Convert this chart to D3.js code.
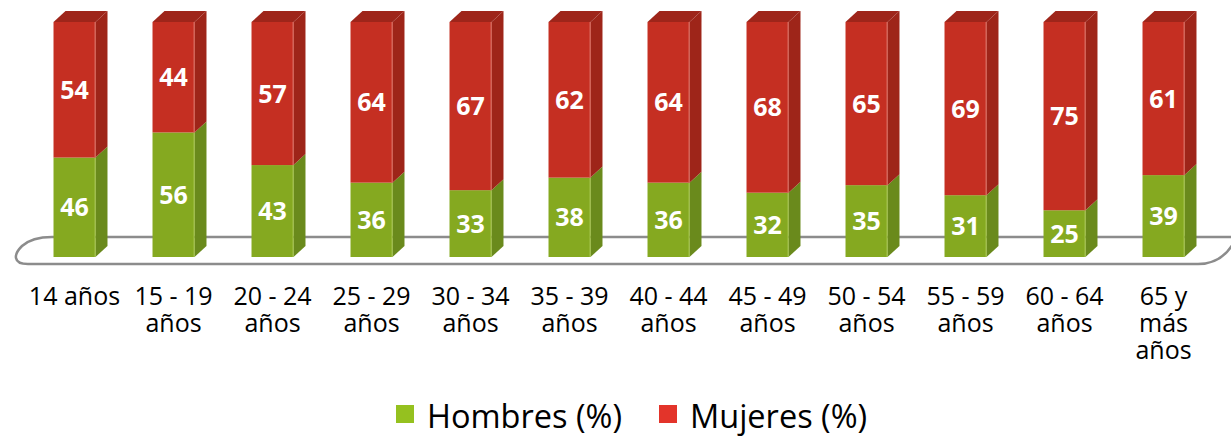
<!DOCTYPE html>
<html>
<head>
<meta charset="utf-8">
<script src="https://cdn.jsdelivr.net/npm/d3@7"></script>
<style>
  body { margin: 0; background: #fff; }
  svg { display: block; }
</style>
</head>
<body>
<svg></svg>
<script>
var categories = ['14 años', '15 - 19 años', '20 - 24 años', '25 - 29 años', '30 - 34 años',
  '35 - 39 años', '40 - 44 años', '45 - 49 años', '50 - 54 años', '55 - 59 años',
  '60 - 64 años', '65 y más años'];
var hombres = [46, 56, 43, 36, 33, 38, 36, 32, 35, 31, 25, 39];
var mujeres = [54, 44, 57, 64, 67, 62, 64, 68, 65, 69, 75, 61];
var seriesNames = ['Hombres (%)', 'Mujeres (%)'];

var width = 1231, height = 439;
var depthX = 12, depthY = 11;
var floorY = 257; // bars stand on the floor, the 0 line sits a bit below it

var colors = [
  { front: '#85a920', side: '#6a8a1c', top: '#76981e', edge: '#a3c24a', legend: '#95c11f' },
  { front: '#c52f22', side: '#9e2519', top: '#9e251a', edge: '#d86a5e', legend: '#e3342a' }
];

var svg = d3.select('svg')
  .attr('width', width)
  .attr('height', height);

var x = d3.scaleBand()
  .domain(categories)
  .range([25, 1213])
  .paddingInner(0.576)
  .paddingOuter(0.288);

var y = d3.scaleLinear()
  .domain([0, 100])
  .range([273, 22]);

function yc(v) { return Math.min(y(v), floorY); }

// floor
svg.append('path')
  .attr('d', 'M1250,237 H52 Q32,237 22,246 Q15,253 16,258 Q17,264 28,264 H1198 Q1222,264 1234,242')
  .attr('fill', 'none')
  .attr('stroke', '#8c8c8c')
  .attr('stroke-width', 2.5);

var rows = categories.map(function (c, i) {
  return { cat: c, segs: [[0, hombres[i]], [hombres[i], hombres[i] + mujeres[i]]], vals: [hombres[i], mujeres[i]] };
});

var bw = x.bandwidth();

var bars = svg.append('g')
  .selectAll('g')
  .data(rows)
  .enter()
  .append('g')
  .attr('transform', function (d) { return 'translate(' + x(d.cat) + ',0)'; });

[0, 1].forEach(function (s) {
  var c = colors[s];
  // side face
  bars.append('path')
    .attr('d', function (d) {
      var y0 = yc(d.segs[s][0]), y1 = yc(d.segs[s][1]);
      return 'M' + bw + ',' + y0 + 'L' + (bw + depthX) + ',' + (y0 - depthY) +
        'L' + (bw + depthX) + ',' + (y1 - depthY) + 'L' + bw + ',' + y1 + 'Z';
    })
    .attr('fill', c.side);
  // top face only on the upper segment
  if (s == 1) {
    bars.append('path')
      .attr('d', function (d) {
        var y1 = yc(d.segs[s][1]);
        return 'M0,' + y1 + 'L' + depthX + ',' + (y1 - depthY) + 'L' + (bw + depthX) + ',' + (y1 - depthY) +
          'L' + bw + ',' + y1 + 'Z';
      })
      .attr('fill', c.top);
  }
  // front face
  bars.append('rect')
    .attr('x', 0)
    .attr('y', function (d) { return yc(d.segs[s][1]); })
    .attr('width', bw)
    .attr('height', function (d) { return yc(d.segs[s][0]) - yc(d.segs[s][1]); })
    .attr('fill', c.front);
  bars.append('line')
    .attr('x1', bw - 0.5).attr('x2', bw - 0.5)
    .attr('y1', function (d) { return yc(d.segs[s][1]); })
    .attr('y2', function (d) { return yc(d.segs[s][0]); })
    .attr('stroke', c.edge)
    .attr('stroke-width', 1);
  // value labels
  bars.append('text')
    .attr('x', bw / 2)
    .attr('y', function (d) { return (yc(d.segs[s][0]) + yc(d.segs[s][1])) / 2; })
    .attr('dy', '0.36em')
    .attr('text-anchor', 'middle')
    .attr('fill', '#fff')
    .attr('font-family', 'Open Sans, sans-serif')
    .attr('font-weight', 'bold')
    .attr('font-size', 25)
    .text(function (d) { return d.vals[s]; });
});

// category labels, wrapped to the slot width
var labels = svg.append('g')
  .selectAll('text')
  .data(categories)
  .enter()
  .append('text')
  .attr('x', function (d) { return x(d) + bw / 2; })
  .attr('y', 305)
  .attr('text-anchor', 'middle')
  .attr('font-family', 'Open Sans, sans-serif')
  .attr('font-size', 25)
  .attr('fill', '#000');

labels.each(function (d) {
  var t = d3.select(this);
  var words = d.split(' ');
  var lines = [], cur = '';
  var probe = t.append('tspan');
  words.forEach(function (w) {
    var test = cur ? cur + ' ' + w : w;
    probe.text(test);
    if (cur && probe.node().getComputedTextLength() > 96) {
      lines.push(cur);
      cur = w;
    } else {
      cur = test;
    }
  });
  lines.push(cur);
  probe.remove();
  lines.forEach(function (l, i) {
    t.append('tspan')
      .attr('x', x(d) + bw / 2)
      .attr('dy', i ? 27 : 0)
      .text(l);
  });
});

// legend
var legend = svg.append('g')
  .selectAll('g')
  .data(seriesNames)
  .enter()
  .append('g')
  .attr('transform', function (d, i) { return 'translate(' + [396, 659][i] + ',405)'; });

legend.append('rect')
  .attr('width', 18)
  .attr('height', 18)
  .attr('fill', function (d, i) { return colors[i].legend; });

legend.append('text')
  .attr('x', 31)
  .attr('y', 23)
  .attr('font-family', 'Open Sans, sans-serif')
  .attr('font-size', 32.5)
  .attr('fill', '#000')
  .text(function (d) { return d; });
</script>
</body>
</html>
